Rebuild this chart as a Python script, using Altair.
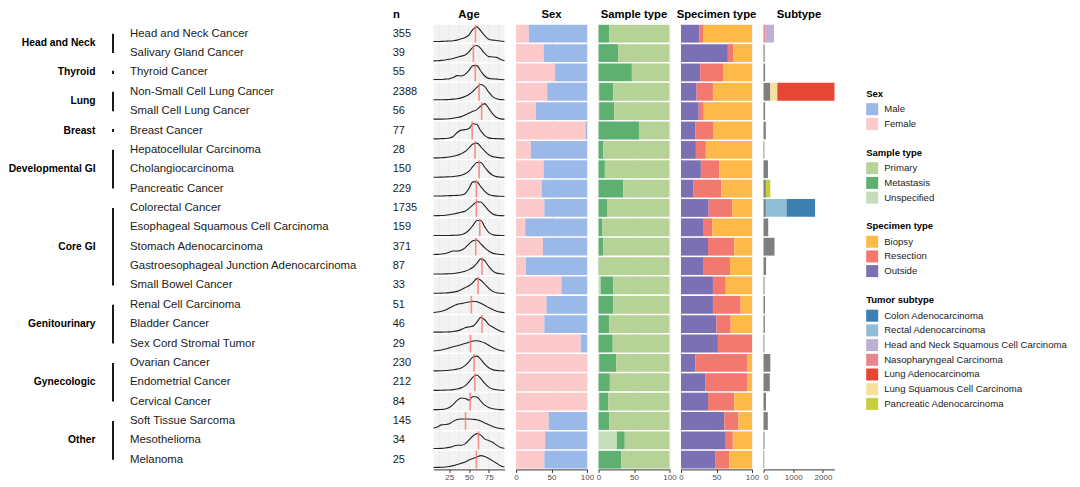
import altair as alt
import pandas as pd

FONT = "Liberation Sans"

names = ["Head and Neck Cancer", "Salivary Gland Cancer", "Thyroid Cancer",
         "Non-Small Cell Lung Cancer", "Small Cell Lung Cancer", "Breast Cancer",
         "Hepatocellular Carcinoma", "Cholangiocarcinoma", "Pancreatic Cancer",
         "Colorectal Cancer", "Esophageal Squamous Cell Carcinoma", "Stomach Adenocarcinoma",
         "Gastroesophageal Junction Adenocarcinoma", "Small Bowel Cancer",
         "Renal Cell Carcinoma", "Bladder Cancer", "Sex Cord Stromal Tumor",
         "Ovarian Cancer", "Endometrial Cancer", "Cervical Cancer",
         "Soft Tissue Sarcoma", "Mesothelioma", "Melanoma"]
n_cases = [355, 39, 55, 2388, 56, 77, 28, 150, 229, 1735, 159, 371, 87, 33, 51, 46, 29,
           230, 212, 84, 145, 34, 25]

group_names = ["Head and Neck", "Thyroid", "Lung", "Breast", "Developmental GI", "Core GI",
               "Genitourinary", "Gynecologic", "Other"]
group_sizes = [2, 1, 2, 1, 3, 5, 3, 3, 3]

# Age: median and density curve read at these ages
age_median = [58.2, 55.6, 58.0, 62.8, 66.0, 54.0, 57.7, 62.8, 59.4, 59.4, 63.6, 58.6, 66.5,
              61.5, 53.0, 66.5, 51.9, 56.5, 57.3, 51.5, 45.6, 62.0, 59.4]
age_grid = [5, 10, 15, 20, 25, 30, 35, 40, 45, 50, 55, 60, 65, 70, 75, 80, 85, 90, 95]
age_density = [
    [0.03, 0.03, 0.04, 0.05, 0.06, 0.08, 0.12, 0.20, 0.28, 0.45, 0.80, 0.95, 0.70, 0.40, 0.18, 0.12, 0.10, 0.06, 0.03],
    [0.03, 0.04, 0.06, 0.09, 0.13, 0.18, 0.26, 0.33, 0.40, 0.60, 0.90, 1.00, 0.80, 0.50, 0.30, 0.28, 0.25, 0.12, 0.04],
    [0.08, 0.08, 0.08, 0.10, 0.12, 0.20, 0.32, 0.30, 0.40, 0.65, 0.95, 0.95, 0.60, 0.30, 0.15, 0.12, 0.10, 0.08, 0.06],
    [0.02, 0.02, 0.02, 0.03, 0.04, 0.06, 0.09, 0.14, 0.22, 0.35, 0.55, 0.80, 0.98, 0.85, 0.50, 0.22, 0.08, 0.03, 0.02],
    [0.02, 0.02, 0.02, 0.03, 0.05, 0.08, 0.12, 0.18, 0.28, 0.40, 0.52, 0.62, 0.85, 1.00, 0.70, 0.35, 0.12, 0.04, 0.02],
    [0.00, 0.00, 0.01, 0.02, 0.05, 0.15, 0.40, 0.55, 0.58, 0.65, 0.95, 0.90, 0.50, 0.20, 0.06, 0.02, 0.01, 0.00, 0.00],
    [0.02, 0.02, 0.03, 0.05, 0.08, 0.12, 0.18, 0.28, 0.42, 0.65, 0.90, 0.95, 0.72, 0.45, 0.22, 0.10, 0.05, 0.02, 0.01],
    [0.02, 0.02, 0.03, 0.04, 0.05, 0.07, 0.10, 0.15, 0.24, 0.40, 0.70, 0.95, 0.95, 0.65, 0.35, 0.15, 0.06, 0.03, 0.02],
    [0.06, 0.06, 0.06, 0.07, 0.08, 0.09, 0.10, 0.12, 0.20, 0.55, 0.95, 0.95, 0.65, 0.35, 0.15, 0.08, 0.05, 0.04, 0.03],
    [0.03, 0.04, 0.05, 0.07, 0.10, 0.14, 0.20, 0.26, 0.32, 0.50, 0.72, 0.90, 0.90, 0.65, 0.35, 0.15, 0.07, 0.04, 0.03],
    [0.01, 0.01, 0.01, 0.01, 0.01, 0.02, 0.03, 0.06, 0.15, 0.35, 0.65, 0.95, 0.95, 0.55, 0.20, 0.06, 0.02, 0.01, 0.01],
    [0.03, 0.04, 0.06, 0.10, 0.18, 0.25, 0.25, 0.30, 0.45, 0.70, 0.90, 0.95, 0.70, 0.45, 0.25, 0.12, 0.06, 0.03, 0.02],
    [0.02, 0.02, 0.02, 0.03, 0.04, 0.06, 0.09, 0.13, 0.20, 0.30, 0.45, 0.70, 0.98, 0.85, 0.50, 0.22, 0.08, 0.04, 0.02],
    [0.03, 0.03, 0.04, 0.05, 0.07, 0.10, 0.15, 0.25, 0.38, 0.50, 0.70, 0.95, 0.85, 0.60, 0.35, 0.15, 0.06, 0.03, 0.02],
    [0.04, 0.07, 0.12, 0.20, 0.32, 0.45, 0.55, 0.60, 0.65, 0.70, 0.75, 0.72, 0.62, 0.48, 0.35, 0.22, 0.12, 0.06, 0.03],
    [0.02, 0.02, 0.02, 0.03, 0.04, 0.06, 0.10, 0.18, 0.30, 0.35, 0.40, 0.65, 0.95, 0.80, 0.50, 0.35, 0.20, 0.08, 0.03],
    [0.05, 0.08, 0.12, 0.18, 0.25, 0.32, 0.38, 0.45, 0.52, 0.60, 0.68, 0.70, 0.65, 0.55, 0.42, 0.28, 0.16, 0.08, 0.04],
    [0.02, 0.02, 0.03, 0.04, 0.06, 0.09, 0.13, 0.20, 0.35, 0.60, 0.90, 0.95, 0.75, 0.45, 0.22, 0.10, 0.05, 0.03, 0.02],
    [0.01, 0.01, 0.02, 0.03, 0.04, 0.06, 0.10, 0.17, 0.30, 0.55, 0.85, 0.98, 0.75, 0.45, 0.22, 0.10, 0.05, 0.02, 0.01],
    [0.02, 0.02, 0.03, 0.06, 0.15, 0.35, 0.60, 0.75, 0.72, 0.62, 0.85, 0.82, 0.55, 0.30, 0.15, 0.08, 0.04, 0.02, 0.01],
    [0.08, 0.15, 0.28, 0.30, 0.35, 0.50, 0.62, 0.65, 0.65, 0.65, 0.63, 0.60, 0.52, 0.40, 0.28, 0.18, 0.10, 0.05, 0.02],
    [0.01, 0.01, 0.02, 0.04, 0.08, 0.15, 0.22, 0.22, 0.30, 0.55, 0.80, 0.95, 0.85, 0.60, 0.52, 0.40, 0.22, 0.08, 0.03],
    [0.03, 0.04, 0.05, 0.07, 0.10, 0.15, 0.22, 0.30, 0.38, 0.50, 0.60, 0.70, 0.78, 0.72, 0.60, 0.45, 0.30, 0.15, 0.06],
]
age_grid_lines = [12.5, 25, 37.5, 50, 62.5, 75, 87.5]

female_pct = [18, 39, 55, 44, 28, 98, 21, 39, 36, 40, 13, 38, 14, 64, 43, 40, 91, 100, 100, 100, 46, 41, 40]
male_pct = [82, 61, 45, 56, 72, 2, 79, 61, 64, 60, 87, 62, 86, 36, 57, 60, 9, 0, 0, 0, 54, 59, 60]

unspecified_pct = [0, 0, 0, 1, 1, 0, 0, 0, 0, 0, 0, 0, 0, 3, 0, 0, 0, 1, 0, 1, 0, 26, 0]
metastasis_pct = [15, 28, 47, 20, 21, 57, 7, 9, 35, 12, 5, 7, 0.5, 18, 21, 15, 20, 24, 16, 13, 15, 11, 32]
primary_pct = [85, 72, 53, 79, 78, 43, 93, 91, 65, 88, 95, 93, 99.5, 79, 79, 85, 80, 75, 84, 86, 85, 63, 68]

outside_pct = [26, 66, 27, 22, 25, 20, 21, 28, 17, 39, 31, 38, 31, 45, 45, 50, 52, 20, 34, 38, 61, 62, 48]
resection_pct = [5, 8, 33, 23, 7, 26, 14, 26, 40, 33, 13, 37, 38, 18, 39, 20, 48, 73, 59, 37, 20, 11, 20]
biopsy_pct = [69, 26, 40, 55, 68, 54, 65, 46, 43, 28, 56, 25, 31, 37, 16, 30, 0, 7, 7, 25, 19, 27, 32]

other_subtype_count = [10, 39, 55, 230, 56, 77, 28, 150, 80, 80, 159, 371, 87, 33, 51, 46, 29,
                       230, 212, 84, 145, 34, 25]
sub_cancer = ["Head and Neck Cancer", "Head and Neck Cancer", "Non-Small Cell Lung Cancer",
              "Non-Small Cell Lung Cancer", "Pancreatic Cancer", "Colorectal Cancer", "Colorectal Cancer"]
sub_type = ["Nasopharyngeal Carcinoma", "Head and Neck Squamous Cell Carcinoma",
            "Lung Squamous Cell Carcinoma", "Lung Adenocarcinoma", "Pancreatic Adenocarcinoma",
            "Rectal Adenocarcinoma", "Colon Adenocarcinoma"]
sub_count = [60, 285, 235, 1923, 149, 695, 960]

sex_levels = ["Male", "Female"]
sex_colors = ["#9BB9E8", "#FCCACA"]
sample_levels = ["Primary", "Metastasis", "Unspecified"]
sample_colors = ["#B6D296", "#5EB070", "#C5DDB9"]
spec_levels = ["Biopsy", "Resection", "Outside"]
spec_colors = ["#FDBA48", "#F27870", "#7C70B4"]
subtype_levels = ["Colon Adenocarcinoma", "Rectal Adenocarcinoma",
                  "Head and Neck Squamous Cell Carcinoma", "Nasopharyngeal Carcinoma",
                  "Lung Adenocarcinoma", "Lung Squamous Cell Carcinoma", "Pancreatic Adenocarcinoma"]
subtype_colors = ["#3C7FB1", "#8FBED6", "#BEB0D4", "#E8868E", "#E64634", "#F7DF9D", "#C7CF3B"]
other_color = "#7F7F7F"

# ---------------- layout constants ----------------
NR = len(names)
H = 445.4
W = 71
LABEL_W = 413.8
SP = 11.5
# left edge (page px) of: age, sex, sample, specimen, subtype panels
panel_left = [8 + LABEL_W + SP + i * (W + SP) for i in range(5)]
LEG_X = 866
TOP = 23.3

# ---------------- tables ----------------
rows = pd.DataFrame({"cancer": names, "idx": range(NR), "n": [str(v) for v in n_cases],
                     "median": age_median})
rows["top"] = rows["idx"] + 0.04
rows["bot"] = rows["idx"] + 0.96
rows["mid"] = rows["idx"] + 0.5

starts = []
s = 0
for g in group_sizes:
    starts.append(s)
    s += g
grp = pd.DataFrame({"group": group_names, "start": starts, "size": group_sizes})
grp["ymid"] = grp["start"] + grp["size"] / 2
grp["y1"] = grp["start"] + 0.5 - (grp["size"] == 1) * 0.08
grp["y2"] = grp["start"] + grp["size"] - 0.5 + (grp["size"] == 1) * 0.08

dens_rec = []
for i, c in enumerate(names):
    for a, d in zip(age_grid, age_density[i]):
        dens_rec.append({"cancer": c, "age": a, "dens": d, "yv": i + 0.93 - 0.82 * d})
dens = pd.DataFrame(dens_rec)

grid_rec = []
for i in range(NR):
    for a in age_grid_lines:
        grid_rec.append({"age": a, "top": i + 0.04, "bot": i + 0.96})
grid_df = pd.DataFrame(grid_rec)

sex_df = pd.DataFrame({"cancer": names * 2, "cat": ["Female"] * NR + ["Male"] * NR,
                       "pct": female_pct + male_pct, "ord": [0] * NR + [1] * NR})
sample_df = pd.DataFrame({"cancer": names * 3,
                          "cat": ["Unspecified"] * NR + ["Metastasis"] * NR + ["Primary"] * NR,
                          "pct": unspecified_pct + metastasis_pct + primary_pct,
                          "ord": [0] * NR + [1] * NR + [2] * NR})
spec_df = pd.DataFrame({"cancer": names * 3,
                        "cat": ["Outside"] * NR + ["Resection"] * NR + ["Biopsy"] * NR,
                        "pct": outside_pct + resection_pct + biopsy_pct,
                        "ord": [0] * NR + [1] * NR + [2] * NR})
stack_rank = {t: len(subtype_levels) - k for k, t in enumerate(subtype_levels)}
sub_df = pd.DataFrame({"cancer": names + sub_cancer,
                       "cat": ["Other"] * NR + sub_type,
                       "cnt": other_subtype_count + sub_count})
sub_df["ord"] = [0 if t == "Other" else stack_rank[t] for t in sub_df["cat"]]

# ---------------- shared encodings ----------------
yq = alt.Scale(domain=[0, NR], reverse=True, nice=False, zero=False)
y_band = alt.Y("cancer:N", axis=None,
               scale=alt.Scale(domain=names, paddingInner=0.08, paddingOuter=0.04))
pct_axis = alt.Axis(values=[0, 50, 100], title=None, grid=True, labelFlush=False)
pct_scale = alt.Scale(domain=[0, 100], nice=False)


def legend(title, panel, ytop, values=None):
    kw = dict(title=title, orient="none", legendX=LEG_X - panel_left[panel],
              legendY=ytop - TOP)
    if values is not None:
        kw["values"] = values
    return alt.Legend(**kw)


# ---------------- label panel ----------------
lab_text = alt.Chart(rows).mark_text(align="left", baseline="middle", font=FONT,
                                     fontSize=11.4, color="#1A1A1A").encode(
    x=alt.value(122), y=alt.Y("mid:Q", scale=yq, axis=None), text="cancer:N")
lab_n = alt.Chart(rows).mark_text(align="left", baseline="middle", font=FONT,
                                  fontSize=11, color="#1A1A1A").encode(
    x=alt.value(384.7), y=alt.Y("mid:Q", scale=yq, axis=None), text="n:N")
grp_text = alt.Chart(grp).mark_text(align="right", baseline="middle", font=FONT,
                                    fontSize=10.3, fontWeight="bold", color="black").encode(
    x=alt.value(87.5), y=alt.Y("ymid:Q", scale=yq, axis=None), text="group:N")
grp_bar = alt.Chart(grp).mark_rule(color="black", strokeWidth=1.8).encode(
    x=alt.value(105), y=alt.Y("y1:Q", scale=yq, axis=None), y2="y2:Q")
labels = alt.layer(grp_bar, grp_text, lab_text, lab_n).properties(
    width=LABEL_W, height=H, title=alt.TitleParams("n", anchor="end", dx=-22))

# ---------------- age panel ----------------
age_scale = alt.Scale(domain=[5, 95], nice=False, zero=False)
age_axis = alt.Axis(values=[25, 50, 75], title=None, grid=False)
age_bg = alt.Chart(rows).mark_rect(color="#F3F3F3").encode(
    x=alt.XDatum(5, scale=age_scale, axis=age_axis), x2=alt.datum(95),
    y=alt.Y("top:Q", scale=yq, axis=None), y2="bot:Q")
age_grid_m = alt.Chart(grid_df).mark_rule(color="#E6E6E6", strokeWidth=0.6).encode(
    x=alt.X("age:Q", scale=age_scale, axis=age_axis),
    y=alt.Y("top:Q", scale=yq, axis=None), y2="bot:Q")
age_line = alt.Chart(dens).mark_line(color="#222222", strokeWidth=1.1,
                                     interpolate="monotone").encode(
    x=alt.X("age:Q", scale=age_scale, axis=age_axis),
    y=alt.Y("yv:Q", scale=yq, axis=None), detail="cancer:N")
age_med = alt.Chart(rows).mark_rule(color="#F8766D", opacity=0.8, strokeWidth=1.6).encode(
    x=alt.X("median:Q", scale=age_scale, axis=age_axis),
    y=alt.Y("top:Q", scale=yq, axis=None), y2="bot:Q")
age = alt.layer(age_bg, age_grid_m, age_line, age_med).properties(
    width=W, height=H, title="Age")

# ---------------- stacked percentage panels ----------------
sex = alt.Chart(sex_df).mark_bar().encode(
    y=y_band,
    x=alt.X("pct:Q", stack="zero", scale=pct_scale, axis=pct_axis),
    color=alt.Color("cat:N", scale=alt.Scale(domain=sex_levels, range=sex_colors),
                    legend=legend("Sex", 1, 88)),
    order=alt.Order("ord:Q")).properties(width=W, height=H, title="Sex")

sample = alt.Chart(sample_df).mark_bar().encode(
    y=y_band,
    x=alt.X("pct:Q", stack="zero", scale=pct_scale, axis=pct_axis),
    color=alt.Color("cat:N", scale=alt.Scale(domain=sample_levels, range=sample_colors),
                    legend=legend("Sample type", 2, 147)),
    order=alt.Order("ord:Q")).properties(width=W, height=H, title="Sample type")

spec = alt.Chart(spec_df).mark_bar().encode(
    y=y_band,
    x=alt.X("pct:Q", stack="zero", scale=pct_scale, axis=pct_axis),
    color=alt.Color("cat:N", scale=alt.Scale(domain=spec_levels, range=spec_colors),
                    legend=legend("Specimen type", 3, 220.5)),
    order=alt.Order("ord:Q")).properties(width=W, height=H, title="Specimen type")

sub = alt.Chart(sub_df).mark_bar().encode(
    y=y_band,
    x=alt.X("cnt:Q", stack="zero", scale=alt.Scale(domain=[0, 2388], nice=False),
            axis=alt.Axis(values=[0, 1000, 2000], title=None, grid=False, format="d")),
    color=alt.Color("cat:N",
                    scale=alt.Scale(domain=subtype_levels + ["Other"],
                                    range=subtype_colors + [other_color]),
                    legend=legend("Tumor subtype", 4, 294.5, values=subtype_levels)),
    order=alt.Order("ord:Q")).properties(width=W, height=H, title="Subtype")

chart = alt.hconcat(labels, age, sex, sample, spec, sub, spacing=SP).properties(
    bounds="flush", padding=0
).resolve_scale(
    x="independent", y="independent", color="independent"
).resolve_legend(color="independent").configure_view(stroke=None).configure_title(
    font=FONT, fontSize=11.3, fontWeight="bold", color="black", offset=4, anchor="middle"
).configure_axis(
    labelFont=FONT, labelFontSize=8, labelColor="#4D4D4D", domainColor="#333333",
    tickColor="#333333", tickSize=3, labelPadding=1, gridColor="#EEEEEE", domainWidth=1
).configure_legend(
    titleFont=FONT, labelFont=FONT, titleFontSize=9.5, labelFontSize=9.6,
    titleColor="black", labelColor="#1A1A1A", symbolType="square", symbolSize=144,
    symbolStrokeWidth=0, rowPadding=2.7, titlePadding=5, padding=0, labelOffset=6,
    titleFontWeight="bold", labelLimit=0
)

chart.save("out.html", embed_options={"renderer": "svg", "actions": False})
